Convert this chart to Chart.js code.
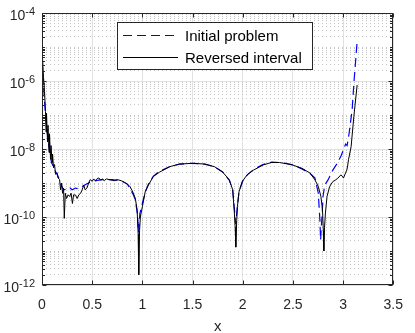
<!DOCTYPE html>
<html><head><meta charset="utf-8">
<script src="https://cdn.jsdelivr.net/npm/chart.js@4"></script>
<style>html,body{margin:0;padding:0;background:#fff}</style>
</head><body>
<canvas id="c" width="415" height="333"></canvas>
<script>
// ---- data ----
const seriesLabels = ['Initial problem', 'Reversed interval'];

const initialX = [
0,0.01,0.022,0.035,0.045,0.061,0.075,0.085,0.094,0.11,
0.126,0.15,0.174,0.19,0.206,0.22,0.239,0.26,0.28,0.3,
0.335,0.36,0.4,0.43,0.464,0.5,0.55,0.6,0.65,0.7,
0.75,0.8,0.85,0.883,0.91,0.93,0.95,0.962,0.975,1.0,
1.03,1.06,1.11,1.17,1.27,1.37,1.5,1.62,1.72,1.8,
1.867,1.9,1.915,1.93,1.945,1.963,2.0,2.05,2.11,2.2,
2.29,2.37,2.43,2.5,2.59,2.672,2.72,2.753,2.769,2.776,
2.785,2.792,2.8,2.817,2.85,2.898,2.947,2.98,3.01,3.025,
3.04,3.06,3.09,3.11,3.14];
const initialY = [
4.2e-6,1.26e-6,3.5e-7,1.0e-7,5.0e-8,1.8e-8,8.9e-9,6.3e-9,4.0e-9,3.2e-9,
2.4e-9,1.8e-9,1.26e-9,8.9e-10,7.1e-10,6.3e-10,6.6e-10,6.3e-10,7.1e-10,6.3e-10,
7.1e-10,6.8e-10,7.9e-10,8.9e-10,1.0e-9,1.12e-9,1.2e-9,1.26e-9,1.26e-9,1.26e-9,
1.2e-9,1.12e-9,9.3e-10,6.3e-10,4.5e-10,3.2e-10,1.26e-10,3.5e-11,1.26e-10,2.5e-10,
5.6e-10,9.1e-10,1.6e-9,2.2e-9,3.0e-9,3.6e-9,3.8e-9,3.6e-9,3.0e-9,2.1e-9,
1.2e-9,6.3e-10,2.0e-10,6.3e-11,1.8e-10,5.6e-10,1.15e-9,1.8e-9,2.5e-9,3.5e-9,
4.1e-9,4.0e-9,3.8e-9,3.4e-9,2.6e-9,1.9e-9,1.4e-9,5.0e-10,8.1e-11,2.1e-11,
6.3e-11,1.3e-10,4.0e-10,8.7e-10,1.23e-9,2.4e-9,4.0e-9,6.3e-9,1.05e-8,1.4e-8,
1.26e-8,2.9e-8,1.4e-7,1.07e-6,1.45e-5];

const reversedX = [
0,0.005,0.015,0.025,0.035,0.04,0.045,0.055,0.06,0.07,
0.075,0.085,0.09,0.1,0.105,0.115,0.125,0.135,0.15,0.16,
0.175,0.185,0.195,0.205,0.215,0.222,0.232,0.245,0.26,0.275,
0.29,0.303,0.315,0.335,0.35,0.367,0.385,0.4,0.416,0.43,
0.448,0.465,0.48,0.5,0.515,0.53,0.55,0.567,0.585,0.6,
0.62,0.64,0.67,0.7,0.72,0.75,0.79,0.82,0.851,0.875,
0.9,0.93,0.948,0.958,0.964,0.972,0.98,1.0,1.028,1.06,
1.109,1.173,1.27,1.367,1.5,1.625,1.72,1.8,1.867,1.9,
1.915,1.925,1.931,1.94,1.947,1.963,1.995,2.044,2.108,2.205,
2.285,2.366,2.43,2.495,2.59,2.672,2.72,2.753,2.779,2.795,
2.803,2.808,2.815,2.824,2.84,2.866,2.898,2.92,2.947,2.979,
2.99,3.004,3.017,3.037,3.045,3.055,3.08,3.107,3.14];
const reversedY = [
1.12e-5,5.0e-6,1.26e-6,5.0e-7,1.26e-7,3.2e-8,1.12e-7,1.6e-8,5.0e-8,7.9e-9,
2.8e-8,5.0e-9,1.26e-8,4.0e-9,7.1e-9,2.8e-9,3.5e-9,1.8e-9,2.0e-9,1.4e-9,
1.26e-9,6.3e-10,1.0e-9,5.0e-10,7.1e-10,9.1e-11,5.0e-10,3.5e-10,4.5e-10,4.0e-10,
5.0e-10,2.5e-10,4.5e-10,4.4e-10,3.5e-10,4.5e-10,5.0e-10,6.3e-10,8.7e-10,6.3e-10,
7.1e-10,1.0e-9,1.26e-9,1.12e-9,1.32e-9,1.17e-9,1.35e-9,1.41e-9,1.2e-9,1.32e-9,
1.17e-9,1.32e-9,1.26e-9,1.2e-9,1.17e-9,1.26e-9,1.17e-9,1.05e-9,9.3e-10,7.9e-10,
5.9e-10,3.5e-10,1.6e-10,3.2e-11,2.0e-12,4.0e-11,1.0e-10,2.0e-10,5.5e-10,8.7e-10,
1.55e-9,2.1e-9,3.0e-9,3.6e-9,3.8e-9,3.6e-9,3.0e-9,2.1e-9,1.23e-9,6.3e-10,
1.6e-10,5.0e-11,1.3e-11,7.9e-11,2.0e-10,5.5e-10,1.1e-9,1.74e-9,2.4e-9,3.4e-9,
4.0e-9,4.0e-9,3.7e-9,3.4e-9,2.7e-9,1.95e-9,1.23e-9,7.9e-10,4.0e-10,1.6e-10,
4.0e-11,1.0e-11,5.0e-11,1.3e-10,4.0e-10,7.9e-10,1.1e-9,1.2e-9,1.38e-9,1.74e-9,
1.6e-9,1.4e-9,1.74e-9,2.4e-9,3.2e-9,5.0e-9,1.17e-8,8.9e-8,7.6e-7];

const xTicks = [0,0.5,1,1.5,2,2.5,3,3.5];
const xTickLabels = ['0','0.5','1','1.5','2','2.5','3','3.5'];
const yMajorTicks = [1e-12,1e-10,1e-8,1e-6,1e-4];
const yTickBase = ['10','10','10','10','10'];
const yTickExp = ['-12','-10','-8','-6','-4'];
const xTitle = 'x';

// minor log grid positions (2..9 per decade, plus odd decades)
const yMinorTicks = [];
for (let e = -12; e < -4; e++) {
  for (let k = 1; k <= 9; k++) {
    const v = k * Math.pow(10, e);
    if (k === 1 && e % 2 === 0) continue;
    yMinorTicks.push(v);
  }
}

const FONT = '"Liberation Sans", Arial, Helvetica, sans-serif';
const AX = '#262626';
Chart.defaults.font.family = FONT;

const decor = {
  id: 'decor',
  afterDraw(chart) {
    const {ctx, chartArea: a, scales: {x, y}} = chart;
    ctx.save();
    // axes box
    ctx.strokeStyle = AX; ctx.lineWidth = 1; ctx.setLineDash([]);
    const L = Math.round(a.left) + 0.5, R = Math.round(a.right) - 0.5,
          T = Math.round(a.top) + 0.5, B = Math.round(a.bottom) - 0.5;
    ctx.strokeRect(L, T, R - L, B - T);
    // tick marks (inward, both sides)
    ctx.beginPath();
    xTicks.forEach(v => {
      const px = Math.round(x.getPixelForValue(v)) + 0.5;
      ctx.moveTo(px, B); ctx.lineTo(px, B - 4);
      ctx.moveTo(px, T); ctx.lineTo(px, T + 4);
    });
    yMajorTicks.forEach(v => {
      const py = Math.round(y.getPixelForValue(v)) + 0.5;
      ctx.moveTo(L, py); ctx.lineTo(L + 4, py);
      ctx.moveTo(R, py); ctx.lineTo(R - 4, py);
    });
    yMinorTicks.forEach(v => {
      const py = Math.round(y.getPixelForValue(v)) + 0.5;
      ctx.moveTo(L, py); ctx.lineTo(L + 2.5, py);
      ctx.moveTo(R, py); ctx.lineTo(R - 2.5, py);
    });
    ctx.stroke();
    // y tick labels 10^n
    ctx.fillStyle = AX; ctx.textBaseline = 'middle'; ctx.textAlign = 'left';
    yMajorTicks.forEach((v, i) => {
      const py = y.getPixelForValue(v);
      ctx.font = '11px ' + FONT;
      const ew = ctx.measureText(yTickExp[i]).width;
      ctx.font = '14px ' + FONT;
      const bw = ctx.measureText(yTickBase[i]).width;
      const right = a.left - 7;
      ctx.fillText(yTickBase[i], right - ew - bw, py + 3.5);
      ctx.font = '11px ' + FONT;
      ctx.fillText(yTickExp[i], right - ew, py - 1.5);
    });
    // legend box
    const lx = a.left + 75, ly = a.top + 9, lw = 195, lh = 47;
    ctx.fillStyle = '#fff';
    ctx.fillRect(lx, ly, lw, lh);
    ctx.strokeStyle = AX; ctx.lineWidth = 1;
    ctx.strokeRect(lx + 0.5, ly + 0.5, lw, lh);
    chart.data.datasets.forEach((ds, i) => {
      const yy = ly + 13.5 + i * 22;
      ctx.beginPath();
      ctx.strokeStyle = ds.borderColor; ctx.lineWidth = ds.borderWidth;
      ctx.setLineDash(ds.borderDash || []);
      ctx.moveTo(lx + 6, yy); ctx.lineTo(lx + 61, yy);
      ctx.stroke();
      ctx.setLineDash([]);
      ctx.fillStyle = '#000';
      ctx.font = '15px ' + FONT;
      ctx.textBaseline = 'middle'; ctx.textAlign = 'left';
      ctx.fillText(ds.label, lx + 68, yy + 1);
    });
    ctx.restore();
  }
};

const toPts = (xs, ys) => xs.map((v, i) => ({x: v, y: ys[i]}));

new Chart(document.getElementById('c'), {
  type: 'line',
  data: {
    datasets: [
      {label: seriesLabels[0], data: toPts(initialX, initialY), borderColor: '#0000ff',
       borderWidth: 1.2, borderDash: [9, 5], pointRadius: 0, tension: 0, order: 2, fill: false},
      {label: seriesLabels[1], data: toPts(reversedX, reversedY), borderColor: '#000000',
       borderWidth: 1, pointRadius: 0, tension: 0, order: 1, fill: false}
    ]
  },
  options: {
    responsive: false, animation: false,
    layout: {padding: {top: 13, right: 11, left: 0, bottom: 0}},
    plugins: {legend: {display: false}, tooltip: {enabled: false}},
    scales: {
      x: {
        type: 'linear', min: 0, max: 3.5,
        afterBuildTicks: s => { s.ticks = xTicks.map(v => ({value: v})); },
        ticks: {callback: (v, i) => xTickLabels[i], font: {size: 14}, color: AX,
                padding: 12, maxRotation: 0, autoSkip: false},
        grid: {color: '#e2e2e2', lineWidth: 1, drawTicks: false},
        border: {display: false},
        title: {display: true, text: xTitle, font: {size: 15}, color: AX, padding: {top: 0, bottom: -3}},
        afterFit: s => { s.height = 48; }
      },
      y: {
        type: 'logarithmic', min: 1e-12, max: 1e-4,
        afterBuildTicks: s => {
          s.ticks = yMajorTicks.concat(yMinorTicks).sort((p, q) => p - q).map(v => ({value: v}));
        },
        ticks: {display: false, autoSkip: false},
        grid: {
          drawTicks: false, lineWidth: 1,
          color: ctx => (ctx.tick && yMajorTicks.includes(ctx.tick.value)) ? '#e2e2e2' : '#c4c4c4'
        },
        border: {
          display: false,
          dash: ctx => (ctx.tick && yMajorTicks.includes(ctx.tick.value)) ? [] : [1, 3]
        },
        afterFit: s => { s.width = 42; }
      }
    }
  },
  plugins: [decor]
});
</script>
</body></html>
